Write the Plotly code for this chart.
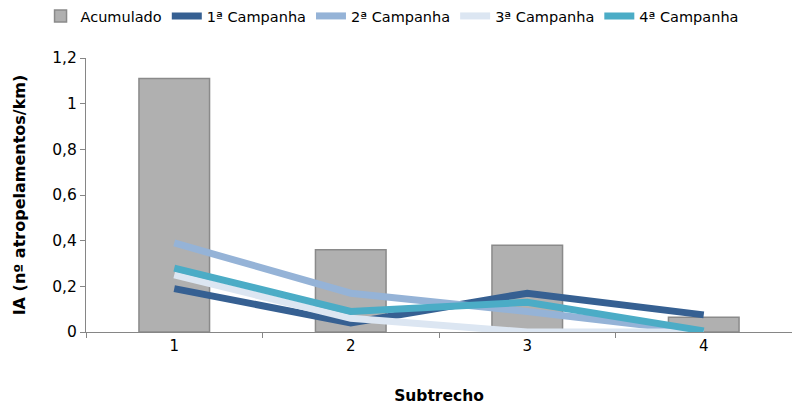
import plotly.graph_objects as go

# Subtrecho categories and index values (atropelamentos/km)
subtrechos = ["1", "2", "3", "4"]
acumulado = [1.11, 0.36, 0.38, 0.065]
campanha_1 = [0.19, 0.04, 0.17, 0.075]
campanha_2 = [0.39, 0.17, 0.09, 0.0]
campanha_3 = [0.25, 0.06, 0.0, 0.0]
campanha_4 = [0.28, 0.09, 0.13, 0.005]

series_names = ["1ª Campanha", "2ª Campanha", "3ª Campanha", "4ª Campanha"]
series_colors = ["#366092", "#95B3D7", "#DCE6F2", "#4BACC6"]

FONT = "DejaVu Sans"

fig = go.Figure()

fig.add_trace(go.Bar(
    x=subtrechos, y=acumulado, name="Acumulado",
    width=0.4,
    marker=dict(color="#B0B0B0", line=dict(color="#8A8A8A", width=1.5)),
))

for name, vals, color in zip(series_names,
                             [campanha_1, campanha_2, campanha_3, campanha_4],
                             series_colors):
    fig.add_trace(go.Scatter(
        x=subtrechos, y=vals, name=name, mode="lines",
        line=dict(color=color, width=7),
    ))

fig.update_layout(
    width=792, height=405,
    margin=dict(l=86, r=0, t=58, b=73),
    paper_bgcolor="white", plot_bgcolor="white",
    separators=",.",
    font=dict(family=FONT, size=14, color="#000000"),
    showlegend=True,
    legend=dict(
        orientation="h",
        xref="container", x=0.495, xanchor="center",
        yref="container", y=1.0, yanchor="top",
        font=dict(family=FONT, size=14.5),
        itemwidth=30, tracegroupgap=0,
        bgcolor="rgba(0,0,0,0)",
    ),
    bargap=0.6,
)

fig.update_xaxes(
    type="category",
    tickson="boundaries",
    ticks="outside", ticklen=5, tickcolor="#868686",
    showline=True, linecolor="#868686", linewidth=1,
    showgrid=False,
    tickfont=dict(family=FONT, size=15),
    title=dict(text="<b>Subtrecho</b>", font=dict(family=FONT, size=15.5), standoff=38),
)

fig.update_yaxes(
    range=[0, 1.2], dtick=0.2, tick0=0,
    ticks="outside", ticklen=5, tickcolor="#868686",
    showline=True, linecolor="#868686", linewidth=1,
    showgrid=False, zeroline=False,
    tickfont=dict(family=FONT, size=15.5),
    title=dict(text="<b>IA (nº atropelamentos/km)</b>", font=dict(family=FONT, size=16), standoff=22),
)

fig.write_html("out.html")
